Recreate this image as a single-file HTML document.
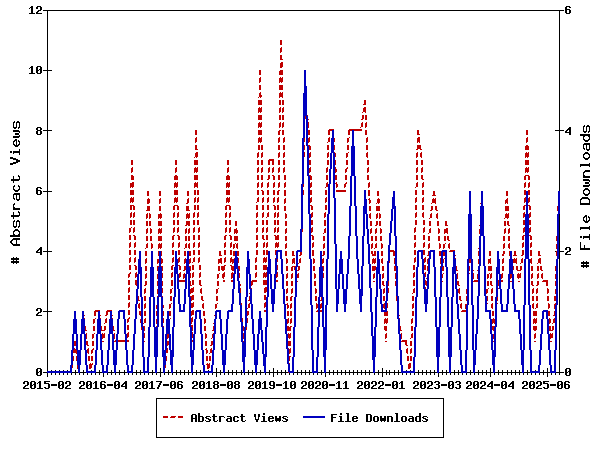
<!DOCTYPE html>
<html lang="en"><head><meta charset="utf-8">
<title>Abstract Views / File Downloads</title>
<style>
html,body{margin:0;padding:0;background:#ffffff;}
body{width:600px;height:450px;overflow:hidden;position:relative;font-family:"Liberation Mono",monospace;}
svg{position:absolute;left:0;top:0;display:block;}
</style></head><body>
<svg width="600" height="450" viewBox="0 0 600 450" shape-rendering="crispEdges" role="img" aria-label="Line chart of monthly abstract views (dashed red, left axis 0-12) and file downloads (solid blue, right axis 0-6), 2015-02 to 2025-09">
<rect x="0" y="0" width="600" height="450" fill="#ffffff"/>
<path fill="#000000" d="M31 6h2v1h-2zM37 6h4v1h-4zM566 6h4v1h-4zM30 7h3v1h-3zM569 7h2v1h-2zM29 8h1v1h-1zM36 7h2v2h-2zM565 7h2v2h-2zM40 7h2v3h-2zM565 9h5v1h-5zM38 10h3v1h-3zM43 10h521v1h-521zM37 11h2v1h-2zM31 8h2v5h-2zM36 12h2v1h-2zM565 10h2v3h-2zM569 10h2v3h-2zM29 13h6v1h-6zM36 13h6v1h-6zM566 13h4v1h-4zM31 66h2v1h-2zM37 66h4v1h-4zM30 67h3v1h-3zM29 68h1v1h-1zM40 67h2v2h-2zM36 67h2v3h-2zM39 69h3v1h-3zM47 11h1v59h-1zM36 70h3v1h-3zM43 70h9v1h-9zM31 68h2v5h-2zM36 71h2v2h-2zM40 70h2v3h-2zM29 73h6v1h-6zM37 73h4v1h-4zM14 121h1v1h-1zM17 121h2v1h-2zM13 122h2v1h-2zM16 122h4v1h-4zM584 125h1v1h-1zM587 125h2v1h-2zM13 123h1v4h-1zM16 123h1v4h-1zM19 123h1v4h-1zM583 126h2v1h-2zM586 126h4v1h-4zM13 127h4v1h-4zM18 127h2v1h-2zM37 127h4v1h-4zM569 127h2v1h-2zM14 128h2v1h-2zM18 128h1v1h-1zM568 128h3v1h-3zM36 128h2v2h-2zM40 128h2v2h-2zM47 71h1v59h-1zM559 11h1v119h-1zM567 129h4v1h-4zM13 130h6v1h-6zM37 130h4v1h-4zM43 130h9v1h-9zM555 130h9v1h-9zM566 130h2v1h-2zM583 127h1v4h-1zM586 127h1v4h-1zM589 127h1v4h-1zM13 131h7v1h-7zM565 131h2v1h-2zM569 130h2v2h-2zM583 131h4v1h-4zM588 131h2v1h-2zM19 132h1v1h-1zM565 132h6v1h-6zM584 132h2v1h-2zM588 132h1v1h-1zM36 131h2v3h-2zM40 131h2v3h-2zM15 133h4v2h-4zM37 134h4v1h-4zM569 133h2v2h-2zM19 135h1v1h-1zM580 134h10v2h-10zM13 136h7v1h-7zM583 136h2v1h-2zM588 136h2v1h-2zM13 137h6v1h-6zM583 137h1v2h-1zM589 137h1v2h-1zM15 139h2v1h-2zM583 139h2v1h-2zM588 139h2v1h-2zM14 140h3v1h-3zM18 140h1v1h-1zM584 140h5v1h-5zM13 141h2v1h-2zM18 141h2v1h-2zM585 141h3v1h-3zM13 142h1v2h-1zM19 142h1v2h-1zM584 143h6v1h-6zM13 144h2v1h-2zM16 141h1v4h-1zM18 144h2v1h-2zM583 144h7v1h-7zM14 145h5v1h-5zM15 146h3v1h-3zM583 145h1v3h-1zM583 148h2v1h-2zM586 145h1v4h-1zM589 145h1v4h-1zM584 149h1v1h-1zM586 149h4v1h-4zM19 149h1v2h-1zM587 150h2v1h-2zM10 151h2v2h-2zM13 151h7v2h-7zM585 152h3v1h-3zM13 153h1v1h-1zM584 153h5v1h-5zM19 153h1v2h-1zM583 154h2v1h-2zM588 154h2v1h-2zM583 155h1v2h-1zM589 155h1v2h-1zM10 157h3v1h-3zM583 157h2v1h-2zM588 157h2v1h-2zM10 158h6v1h-6zM584 158h5v1h-5zM13 159h5v1h-5zM585 159h3v1h-3zM16 160h4v2h-4zM13 162h5v1h-5zM10 163h6v1h-6zM589 163h1v1h-1zM10 164h3v1h-3zM580 164h10v2h-10zM580 166h1v1h-1zM589 166h1v1h-1zM585 170h5v1h-5zM584 171h6v1h-6zM583 172h2v1h-2zM583 173h1v2h-1zM18 175h1v1h-1zM583 175h2v1h-2zM18 176h2v1h-2zM583 176h7v2h-7zM13 176h1v3h-1zM19 177h1v2h-1zM11 179h9v1h-9zM583 179h6v1h-6zM11 180h8v1h-8zM583 180h7v1h-7zM589 181h1v1h-1zM13 181h1v2h-1zM585 182h4v2h-4zM589 184h1v1h-1zM14 185h1v1h-1zM18 185h1v1h-1zM583 185h7v1h-7zM13 186h2v1h-2zM18 186h2v1h-2zM583 186h6v1h-6zM37 187h4v1h-4zM13 187h1v2h-1zM19 187h1v2h-1zM40 188h2v1h-2zM585 188h3v1h-3zM13 189h2v1h-2zM18 189h2v1h-2zM36 188h2v2h-2zM584 189h5v1h-5zM14 190h5v1h-5zM36 190h5v1h-5zM47 131h1v60h-1zM559 131h1v60h-1zM583 190h2v1h-2zM588 190h2v1h-2zM15 191h3v1h-3zM43 191h9v1h-9zM583 191h1v2h-1zM589 191h1v2h-1zM14 193h6v1h-6zM36 191h2v3h-2zM40 191h2v3h-2zM583 193h2v1h-2zM588 193h2v1h-2zM13 194h7v1h-7zM37 194h4v1h-4zM584 194h5v1h-5zM585 195h3v1h-3zM13 195h1v3h-1zM582 197h6v1h-6zM13 198h2v1h-2zM16 195h1v4h-1zM19 195h1v4h-1zM581 198h8v1h-8zM14 199h1v1h-1zM16 199h4v1h-4zM580 199h2v1h-2zM588 199h2v1h-2zM17 200h2v1h-2zM580 200h1v3h-1zM589 200h1v3h-1zM14 203h1v1h-1zM13 204h2v1h-2zM580 203h10v2h-10zM13 205h1v2h-1zM13 207h2v1h-2zM13 208h7v2h-7zM18 211h1v1h-1zM18 212h2v1h-2zM13 212h1v3h-1zM19 213h1v2h-1zM11 215h9v1h-9zM585 215h2v1h-2zM11 216h8v1h-8zM584 216h3v1h-3zM588 216h1v1h-1zM583 217h2v1h-2zM588 217h2v1h-2zM13 217h1v2h-1zM583 218h1v2h-1zM589 218h1v2h-1zM14 220h1v1h-1zM17 220h2v1h-2zM583 220h2v1h-2zM586 217h1v4h-1zM588 220h2v1h-2zM13 221h2v1h-2zM16 221h4v1h-4zM584 221h5v1h-5zM585 222h3v1h-3zM13 222h1v4h-1zM16 222h1v4h-1zM19 222h1v4h-1zM13 226h4v1h-4zM18 226h2v1h-2zM589 226h1v1h-1zM14 227h2v1h-2zM18 227h1v1h-1zM580 227h10v2h-10zM15 229h3v1h-3zM580 229h1v1h-1zM589 229h1v1h-1zM14 230h5v1h-5zM13 231h2v1h-2zM18 231h2v1h-2zM13 232h1v2h-1zM19 232h1v2h-1zM13 234h2v1h-2zM18 234h2v1h-2zM589 234h1v2h-1zM10 235h10v2h-10zM580 236h2v2h-2zM583 236h7v2h-7zM13 238h7v1h-7zM583 238h1v1h-1zM12 239h8v1h-8zM589 238h1v2h-1zM11 240h2v1h-2zM10 241h2v2h-2zM11 243h2v1h-2zM16 240h1v4h-1zM12 244h8v1h-8zM13 245h7v1h-7zM40 247h2v1h-2zM566 247h4v1h-4zM580 242h1v6h-1zM584 245h1v3h-1zM39 248h3v1h-3zM38 249h4v1h-4zM565 248h2v2h-2zM580 248h10v2h-10zM37 250h2v1h-2zM47 192h1v59h-1zM559 214h1v37h-1zM569 248h2v3h-2zM36 251h2v1h-2zM40 250h2v2h-2zM43 251h9v1h-9zM555 251h1v1h-1zM559 251h5v1h-5zM567 251h3v1h-3zM36 252h6v1h-6zM566 252h2v1h-2zM565 253h2v1h-2zM40 253h2v2h-2zM565 254h6v1h-6zM13 257h1v1h-1zM16 257h1v1h-1zM11 258h8v2h-8zM13 260h1v1h-1zM16 260h1v1h-1zM583 261h1v1h-1zM586 261h1v1h-1zM11 261h8v2h-8zM13 263h1v1h-1zM16 263h1v1h-1zM581 262h8v2h-8zM583 264h1v1h-1zM586 264h1v1h-1zM581 265h8v2h-8zM583 267h1v1h-1zM586 267h1v1h-1zM37 308h4v1h-4zM36 309h2v2h-2zM47 252h1v59h-1zM40 309h2v3h-2zM43 311h9v1h-9zM38 312h3v1h-3zM37 313h2v1h-2zM36 314h2v1h-2zM36 315h6v1h-6zM37 368h4v1h-4zM566 368h4v1h-4zM40 369h2v2h-2zM47 312h1v59h-1zM51 370h1v1h-1zM55 370h1v1h-1zM59 370h1v1h-1zM63 370h1v1h-1zM67 370h1v1h-1zM91 370h1v1h-1zM208 370h1v1h-1zM406 370h1v1h-1zM410 370h1v1h-1zM535 370h1v1h-1zM569 369h2v2h-2zM36 369h2v3h-2zM39 371h3v1h-3zM75 370h1v2h-1zM83 370h1v2h-1zM99 370h1v2h-1zM111 370h1v2h-1zM119 370h1v2h-1zM124 370h1v2h-1zM136 370h1v2h-1zM140 370h1v2h-1zM152 370h1v2h-1zM160 368h1v4h-1zM168 370h1v2h-1zM176 370h1v2h-1zM180 370h1v2h-1zM184 370h1v2h-1zM188 370h1v2h-1zM196 370h1v2h-1zM200 370h1v2h-1zM216 368h1v4h-1zM220 370h1v2h-1zM228 370h1v2h-1zM232 370h1v2h-1zM236 370h1v2h-1zM241 370h1v2h-1zM248 370h1v2h-1zM252 370h1v2h-1zM260 370h1v2h-1zM269 370h1v2h-1zM273 368h1v4h-1zM277 370h1v2h-1zM281 370h1v2h-1zM285 370h1v2h-1zM297 370h1v2h-1zM301 370h1v2h-1zM305 370h1v2h-1zM309 370h1v2h-1zM321 370h1v2h-1zM329 370h1v2h-1zM333 370h1v2h-1zM337 370h1v2h-1zM341 370h1v2h-1zM345 370h1v2h-1zM349 370h1v2h-1zM353 370h1v2h-1zM357 370h1v2h-1zM361 370h1v2h-1zM365 370h1v2h-1zM369 370h1v2h-1zM378 370h1v2h-1zM382 368h1v4h-1zM386 370h1v2h-1zM389 370h1v2h-1zM394 370h1v2h-1zM398 370h1v2h-1zM418 370h1v2h-1zM422 370h1v2h-1zM426 370h1v2h-1zM430 370h1v2h-1zM434 370h1v2h-1zM442 370h1v2h-1zM446 370h1v2h-1zM454 370h1v2h-1zM458 370h1v2h-1zM470 370h1v2h-1zM478 370h1v2h-1zM482 370h1v2h-1zM486 370h1v2h-1zM490 368h1v4h-1zM498 370h1v2h-1zM502 370h1v2h-1zM507 370h1v2h-1zM511 370h1v2h-1zM515 370h1v2h-1zM519 370h1v2h-1zM527 370h1v2h-1zM543 370h1v2h-1zM547 368h1v4h-1zM559 252h1v120h-1zM565 369h2v3h-2zM568 371h3v1h-3zM36 372h3v1h-3zM43 372h4v1h-4zM72 372h6v1h-6zM80 372h6v1h-6zM96 372h6v1h-6zM108 372h6v1h-6zM116 372h11v1h-11zM133 372h10v1h-10zM149 372h6v1h-6zM157 372h6v1h-6zM165 372h6v1h-6zM173 372h18v1h-18zM193 372h10v1h-10zM213 372h10v1h-10zM225 372h18v1h-18zM245 372h10v1h-10zM257 372h7v1h-7zM266 372h22v1h-22zM294 372h18v1h-18zM318 372h6v1h-6zM326 372h47v1h-47zM375 372h26v1h-26zM415 372h22v1h-22zM439 372h10v1h-10zM451 372h10v1h-10zM467 372h6v1h-6zM475 372h18v1h-18zM495 372h27v1h-27zM524 372h6v1h-6zM540 372h10v1h-10zM556 372h8v1h-8zM565 372h3v1h-3zM36 373h2v2h-2zM40 372h2v3h-2zM51 373h1v2h-1zM55 373h1v2h-1zM59 373h1v2h-1zM63 373h1v2h-1zM67 373h1v2h-1zM71 373h1v2h-1zM75 373h1v2h-1zM79 373h1v2h-1zM83 373h1v2h-1zM87 373h1v2h-1zM91 373h1v2h-1zM95 373h1v2h-1zM99 373h1v2h-1zM107 373h1v2h-1zM111 373h1v2h-1zM115 373h1v2h-1zM119 373h1v2h-1zM124 373h1v2h-1zM128 373h1v2h-1zM132 373h1v2h-1zM136 373h1v2h-1zM140 373h1v2h-1zM144 373h1v2h-1zM148 373h1v2h-1zM152 373h1v2h-1zM156 373h1v2h-1zM164 373h1v2h-1zM168 373h1v2h-1zM172 373h1v2h-1zM176 373h1v2h-1zM180 373h1v2h-1zM184 373h1v2h-1zM188 373h1v2h-1zM192 373h1v2h-1zM196 373h1v2h-1zM200 373h1v2h-1zM204 373h1v2h-1zM208 373h1v2h-1zM212 373h1v2h-1zM220 373h1v2h-1zM224 373h1v2h-1zM228 373h1v2h-1zM232 373h1v2h-1zM236 373h1v2h-1zM241 373h1v2h-1zM244 373h1v2h-1zM248 373h1v2h-1zM252 373h1v2h-1zM256 373h1v2h-1zM260 373h1v2h-1zM265 373h1v2h-1zM269 373h1v2h-1zM277 373h1v2h-1zM281 373h1v2h-1zM285 373h1v2h-1zM289 373h1v2h-1zM293 373h1v2h-1zM297 373h1v2h-1zM301 373h1v2h-1zM305 373h1v2h-1zM309 373h1v2h-1zM313 373h1v2h-1zM317 373h1v2h-1zM321 373h1v2h-1zM329 373h1v2h-1zM333 373h1v2h-1zM337 373h1v2h-1zM341 373h1v2h-1zM345 373h1v2h-1zM349 373h1v2h-1zM353 373h1v2h-1zM357 373h1v2h-1zM361 373h1v2h-1zM365 373h1v2h-1zM369 373h1v2h-1zM374 373h1v2h-1zM378 373h1v2h-1zM386 373h1v2h-1zM389 373h1v2h-1zM394 373h1v2h-1zM398 373h1v2h-1zM402 373h1v2h-1zM406 373h1v2h-1zM410 373h1v2h-1zM414 373h1v2h-1zM418 373h1v2h-1zM422 373h1v2h-1zM426 373h1v2h-1zM430 373h1v2h-1zM434 373h1v2h-1zM442 373h1v2h-1zM446 373h1v2h-1zM450 373h1v2h-1zM454 373h1v2h-1zM458 373h1v2h-1zM462 373h1v2h-1zM466 373h1v2h-1zM470 373h1v2h-1zM474 373h1v2h-1zM478 373h1v2h-1zM482 373h1v2h-1zM486 373h1v2h-1zM494 373h1v2h-1zM498 373h1v2h-1zM502 373h1v2h-1zM507 373h1v2h-1zM511 373h1v2h-1zM515 373h1v2h-1zM519 373h1v2h-1zM523 373h1v2h-1zM527 373h1v2h-1zM531 373h1v2h-1zM535 373h1v2h-1zM539 373h1v2h-1zM543 373h1v2h-1zM551 373h1v2h-1zM555 373h1v2h-1zM559 373h1v2h-1zM565 373h2v2h-2zM569 372h2v3h-2zM37 375h4v1h-4zM566 375h4v1h-4zM47 373h1v4h-1zM103 373h1v4h-1zM160 373h1v4h-1zM216 373h1v4h-1zM273 373h1v4h-1zM325 373h1v4h-1zM382 373h1v4h-1zM438 373h1v4h-1zM490 373h1v4h-1zM547 373h1v4h-1zM24 381h4v1h-4zM31 381h4v1h-4zM39 381h2v1h-2zM44 381h6v1h-6zM59 381h4v1h-4zM66 381h4v1h-4zM80 381h4v1h-4zM87 381h4v1h-4zM95 381h2v1h-2zM101 381h4v1h-4zM115 381h4v1h-4zM125 381h2v1h-2zM136 381h4v1h-4zM143 381h4v1h-4zM151 381h2v1h-2zM156 381h6v1h-6zM171 381h4v1h-4zM178 381h4v1h-4zM193 381h4v1h-4zM200 381h4v1h-4zM208 381h2v1h-2zM214 381h4v1h-4zM228 381h4v1h-4zM235 381h4v1h-4zM249 381h4v1h-4zM256 381h4v1h-4zM264 381h2v1h-2zM270 381h4v1h-4zM285 381h2v1h-2zM291 381h4v1h-4zM302 381h4v1h-4zM309 381h4v1h-4zM316 381h4v1h-4zM323 381h4v1h-4zM338 381h2v1h-2zM345 381h2v1h-2zM358 381h4v1h-4zM365 381h4v1h-4zM372 381h4v1h-4zM379 381h4v1h-4zM393 381h4v1h-4zM401 381h2v1h-2zM414 381h4v1h-4zM421 381h4v1h-4zM428 381h4v1h-4zM435 381h4v1h-4zM449 381h4v1h-4zM456 381h4v1h-4zM467 381h4v1h-4zM474 381h4v1h-4zM481 381h4v1h-4zM491 381h2v1h-2zM502 381h4v1h-4zM512 381h2v1h-2zM523 381h4v1h-4zM530 381h4v1h-4zM537 381h4v1h-4zM543 381h6v1h-6zM558 381h4v1h-4zM565 381h4v1h-4zM38 382h3v1h-3zM44 382h2v1h-2zM94 382h3v1h-3zM104 382h2v1h-2zM124 382h3v1h-3zM150 382h3v1h-3zM160 382h2v1h-2zM181 382h2v1h-2zM207 382h3v1h-3zM263 382h3v1h-3zM284 382h3v1h-3zM337 382h3v1h-3zM344 382h3v1h-3zM400 382h3v1h-3zM434 382h2v1h-2zM455 382h2v1h-2zM490 382h3v1h-3zM511 382h3v1h-3zM543 382h2v1h-2zM568 382h2v1h-2zM23 382h2v2h-2zM34 382h2v2h-2zM37 383h1v1h-1zM44 383h5v1h-5zM62 382h2v2h-2zM65 382h2v2h-2zM79 382h2v2h-2zM90 382h2v2h-2zM93 383h1v1h-1zM100 382h2v2h-2zM118 382h2v2h-2zM123 383h4v1h-4zM135 382h2v2h-2zM146 382h2v2h-2zM149 383h1v1h-1zM174 382h2v2h-2zM177 382h2v2h-2zM192 382h2v2h-2zM203 382h2v2h-2zM206 383h1v1h-1zM213 382h2v2h-2zM217 382h2v2h-2zM231 382h2v2h-2zM234 382h2v2h-2zM238 382h2v2h-2zM248 382h2v2h-2zM259 382h2v2h-2zM262 383h1v1h-1zM283 383h1v1h-1zM294 382h2v2h-2zM301 382h2v2h-2zM312 382h2v2h-2zM315 382h2v2h-2zM326 382h2v2h-2zM336 383h1v1h-1zM343 383h1v1h-1zM357 382h2v2h-2zM368 382h2v2h-2zM371 382h2v2h-2zM378 382h2v2h-2zM396 382h2v2h-2zM399 383h1v1h-1zM413 382h2v2h-2zM424 382h2v2h-2zM427 382h2v2h-2zM438 382h2v2h-2zM452 382h2v2h-2zM459 382h2v2h-2zM466 382h2v2h-2zM477 382h2v2h-2zM480 382h2v2h-2zM489 383h4v1h-4zM505 382h2v2h-2zM510 383h4v1h-4zM522 382h2v2h-2zM533 382h2v2h-2zM536 382h2v2h-2zM543 383h5v1h-5zM561 382h2v2h-2zM564 382h2v2h-2zM27 382h2v3h-2zM30 382h2v3h-2zM33 384h3v1h-3zM58 382h2v3h-2zM61 384h3v1h-3zM69 382h2v3h-2zM83 382h2v3h-2zM86 382h2v3h-2zM89 384h3v1h-3zM100 384h5v1h-5zM114 382h2v3h-2zM117 384h3v1h-3zM122 384h2v1h-2zM139 382h2v3h-2zM142 382h2v3h-2zM145 384h3v1h-3zM159 383h2v2h-2zM170 382h2v3h-2zM173 384h3v1h-3zM177 384h5v1h-5zM196 382h2v3h-2zM199 382h2v3h-2zM202 384h3v1h-3zM214 384h4v1h-4zM227 382h2v3h-2zM230 384h3v1h-3zM235 384h4v1h-4zM252 382h2v3h-2zM255 382h2v3h-2zM258 384h3v1h-3zM269 382h2v3h-2zM273 382h2v3h-2zM290 382h2v3h-2zM293 384h3v1h-3zM305 382h2v3h-2zM308 382h2v3h-2zM311 384h3v1h-3zM319 382h2v3h-2zM322 382h2v3h-2zM325 384h3v1h-3zM361 382h2v3h-2zM364 382h2v3h-2zM367 384h3v1h-3zM375 382h2v3h-2zM382 382h2v3h-2zM392 382h2v3h-2zM395 384h3v1h-3zM417 382h2v3h-2zM420 382h2v3h-2zM423 384h3v1h-3zM431 382h2v3h-2zM436 384h3v1h-3zM448 382h2v3h-2zM451 384h3v1h-3zM457 384h3v1h-3zM470 382h2v3h-2zM473 382h2v3h-2zM476 384h3v1h-3zM484 382h2v3h-2zM488 384h2v1h-2zM501 382h2v3h-2zM504 384h3v1h-3zM509 384h2v1h-2zM526 382h2v3h-2zM529 382h2v3h-2zM532 384h3v1h-3zM540 382h2v3h-2zM557 382h2v3h-2zM560 384h3v1h-3zM564 384h5v1h-5zM25 385h3v1h-3zM30 385h3v1h-3zM51 384h6v2h-6zM58 385h3v1h-3zM67 385h3v1h-3zM81 385h3v1h-3zM86 385h3v1h-3zM107 384h6v2h-6zM114 385h3v1h-3zM121 385h2v1h-2zM125 384h2v2h-2zM137 385h3v1h-3zM142 385h3v1h-3zM163 384h6v2h-6zM170 385h3v1h-3zM194 385h3v1h-3zM199 385h3v1h-3zM220 384h6v2h-6zM227 385h3v1h-3zM250 385h3v1h-3zM255 385h3v1h-3zM270 385h5v1h-5zM276 384h6v2h-6zM290 385h3v1h-3zM303 385h3v1h-3zM308 385h3v1h-3zM317 385h3v1h-3zM322 385h3v1h-3zM329 384h6v2h-6zM359 385h3v1h-3zM364 385h3v1h-3zM373 385h3v1h-3zM380 385h3v1h-3zM385 384h6v2h-6zM392 385h3v1h-3zM415 385h3v1h-3zM420 385h3v1h-3zM429 385h3v1h-3zM441 384h6v2h-6zM448 385h3v1h-3zM468 385h3v1h-3zM473 385h3v1h-3zM482 385h3v1h-3zM487 385h2v1h-2zM491 384h2v2h-2zM494 384h6v2h-6zM501 385h3v1h-3zM508 385h2v1h-2zM512 384h2v2h-2zM524 385h3v1h-3zM529 385h3v1h-3zM538 385h3v1h-3zM550 384h6v2h-6zM557 385h3v1h-3zM24 386h2v1h-2zM66 386h2v1h-2zM80 386h2v1h-2zM121 386h6v1h-6zM136 386h2v1h-2zM158 385h2v2h-2zM193 386h2v1h-2zM249 386h2v1h-2zM302 386h2v1h-2zM316 386h2v1h-2zM358 386h2v1h-2zM372 386h2v1h-2zM379 386h2v1h-2zM414 386h2v1h-2zM428 386h2v1h-2zM467 386h2v1h-2zM481 386h2v1h-2zM487 386h6v1h-6zM508 386h6v1h-6zM523 386h2v1h-2zM537 386h2v1h-2zM23 387h2v1h-2zM30 386h2v2h-2zM34 385h2v3h-2zM39 383h2v5h-2zM44 387h2v1h-2zM48 384h2v4h-2zM58 386h2v2h-2zM62 385h2v3h-2zM65 387h2v1h-2zM79 387h2v1h-2zM86 386h2v2h-2zM90 385h2v3h-2zM95 383h2v5h-2zM100 385h2v3h-2zM104 385h2v3h-2zM114 386h2v2h-2zM118 385h2v3h-2zM135 387h2v1h-2zM142 386h2v2h-2zM146 385h2v3h-2zM151 383h2v5h-2zM170 386h2v2h-2zM174 385h2v3h-2zM177 385h2v3h-2zM181 385h2v3h-2zM192 387h2v1h-2zM199 386h2v2h-2zM203 385h2v3h-2zM208 383h2v5h-2zM213 385h2v3h-2zM217 385h2v3h-2zM227 386h2v2h-2zM231 385h2v3h-2zM234 385h2v3h-2zM238 385h2v3h-2zM248 387h2v1h-2zM255 386h2v2h-2zM259 385h2v3h-2zM264 383h2v5h-2zM269 387h2v1h-2zM273 386h2v2h-2zM285 383h2v5h-2zM290 386h2v2h-2zM294 385h2v3h-2zM301 387h2v1h-2zM308 386h2v2h-2zM312 385h2v3h-2zM315 387h2v1h-2zM322 386h2v2h-2zM326 385h2v3h-2zM338 383h2v5h-2zM345 383h2v5h-2zM357 387h2v1h-2zM364 386h2v2h-2zM368 385h2v3h-2zM371 387h2v1h-2zM378 387h2v1h-2zM392 386h2v2h-2zM396 385h2v3h-2zM401 383h2v5h-2zM413 387h2v1h-2zM420 386h2v2h-2zM424 385h2v3h-2zM427 387h2v1h-2zM434 387h2v1h-2zM438 385h2v3h-2zM448 386h2v2h-2zM452 385h2v3h-2zM455 387h2v1h-2zM459 385h2v3h-2zM466 387h2v1h-2zM473 386h2v2h-2zM477 385h2v3h-2zM480 387h2v1h-2zM501 386h2v2h-2zM505 385h2v3h-2zM522 387h2v1h-2zM529 386h2v2h-2zM533 385h2v3h-2zM536 387h2v1h-2zM543 387h2v1h-2zM547 384h2v4h-2zM557 386h2v2h-2zM561 385h2v3h-2zM564 385h2v3h-2zM568 385h2v3h-2zM23 388h6v1h-6zM31 388h4v1h-4zM37 388h6v1h-6zM45 388h4v1h-4zM59 388h4v1h-4zM65 388h6v1h-6zM79 388h6v1h-6zM87 388h4v1h-4zM93 388h6v1h-6zM101 388h4v1h-4zM115 388h4v1h-4zM125 387h2v2h-2zM135 388h6v1h-6zM143 388h4v1h-4zM149 388h6v1h-6zM157 387h2v2h-2zM171 388h4v1h-4zM178 388h4v1h-4zM192 388h6v1h-6zM200 388h4v1h-4zM206 388h6v1h-6zM214 388h4v1h-4zM228 388h4v1h-4zM235 388h4v1h-4zM248 388h6v1h-6zM256 388h4v1h-4zM262 388h6v1h-6zM270 388h4v1h-4zM283 388h6v1h-6zM291 388h4v1h-4zM301 388h6v1h-6zM309 388h4v1h-4zM315 388h6v1h-6zM323 388h4v1h-4zM336 388h6v1h-6zM343 388h6v1h-6zM357 388h6v1h-6zM365 388h4v1h-4zM371 388h6v1h-6zM378 388h6v1h-6zM393 388h4v1h-4zM399 388h6v1h-6zM413 388h6v1h-6zM421 388h4v1h-4zM427 388h6v1h-6zM435 388h4v1h-4zM449 388h4v1h-4zM456 388h4v1h-4zM466 388h6v1h-6zM474 388h4v1h-4zM480 388h6v1h-6zM491 387h2v2h-2zM502 388h4v1h-4zM512 387h2v2h-2zM522 388h6v1h-6zM530 388h4v1h-4zM536 388h6v1h-6zM544 388h4v1h-4zM558 388h4v1h-4zM565 388h4v1h-4zM156 398h288v1h-288zM346 413h3v1h-3zM395 413h3v1h-3zM192 414h4v1h-4zM263 413h2v2h-2zM331 414h6v1h-6zM340 413h2v2h-2zM366 414h5v1h-5zM198 413h2v3h-2zM213 414h2v2h-2zM241 414h2v2h-2zM419 413h2v3h-2zM198 416h5v1h-5zM206 416h4v1h-4zM212 416h5v1h-5zM219 416h5v1h-5zM227 416h4v1h-4zM234 416h4v1h-4zM240 416h5v1h-5zM254 414h2v3h-2zM258 414h2v3h-2zM262 416h3v1h-3zM269 416h4v1h-4zM283 416h4v1h-4zM331 415h2v2h-2zM339 416h3v1h-3zM353 416h4v1h-4zM374 416h4v1h-4zM387 416h5v1h-5zM402 416h4v1h-4zM409 416h4v1h-4zM416 416h5v1h-5zM423 416h4v1h-4zM191 415h2v3h-2zM195 415h2v3h-2zM205 417h2v1h-2zM210 417h1v1h-1zM224 417h1v1h-1zM230 417h2v1h-2zM237 417h2v1h-2zM268 417h2v1h-2zM272 417h2v1h-2zM275 416h2v2h-2zM279 416h2v2h-2zM282 417h2v1h-2zM287 417h1v1h-1zM331 417h5v1h-5zM352 417h2v1h-2zM356 417h2v1h-2zM380 416h2v2h-2zM384 416h2v2h-2zM412 417h2v1h-2zM422 417h2v1h-2zM427 417h1v1h-1zM191 418h6v1h-6zM206 418h3v1h-3zM227 418h5v1h-5zM255 417h1v2h-1zM258 417h1v2h-1zM268 418h6v1h-6zM283 418h3v1h-3zM352 418h6v1h-6zM409 418h5v1h-5zM423 418h3v1h-3zM208 419h3v1h-3zM255 419h4v1h-4zM285 419h3v1h-3zM425 419h3v1h-3zM198 417h2v4h-2zM202 417h2v4h-2zM205 420h1v1h-1zM209 420h2v1h-2zM213 417h2v4h-2zM217 420h1v1h-1zM226 419h2v2h-2zM230 419h2v2h-2zM233 417h2v4h-2zM237 420h2v1h-2zM241 417h2v4h-2zM245 420h1v1h-1zM263 417h2v4h-2zM268 419h2v2h-2zM272 420h2v1h-2zM275 418h6v3h-6zM282 420h1v1h-1zM286 420h2v1h-2zM340 417h2v4h-2zM347 414h2v7h-2zM352 419h2v2h-2zM356 420h2v1h-2zM366 415h2v6h-2zM370 415h2v6h-2zM373 417h2v4h-2zM377 417h2v4h-2zM380 418h6v3h-6zM396 414h2v7h-2zM401 417h2v4h-2zM405 417h2v4h-2zM408 419h2v2h-2zM412 419h2v2h-2zM415 417h2v4h-2zM419 417h2v4h-2zM422 420h1v1h-1zM426 420h2v1h-2zM191 419h2v3h-2zM195 419h2v3h-2zM198 421h5v1h-5zM206 421h4v1h-4zM214 421h3v1h-3zM219 417h2v5h-2zM227 421h5v1h-5zM234 421h4v1h-4zM242 421h3v1h-3zM256 420h2v2h-2zM261 421h6v1h-6zM269 421h4v1h-4zM276 421h1v1h-1zM279 421h1v1h-1zM283 421h4v1h-4zM331 418h2v4h-2zM338 421h6v1h-6zM345 421h6v1h-6zM353 421h4v1h-4zM366 421h5v1h-5zM374 421h4v1h-4zM381 421h1v1h-1zM384 421h1v1h-1zM387 417h2v5h-2zM391 417h2v5h-2zM394 421h6v1h-6zM402 421h4v1h-4zM409 421h5v1h-5zM416 421h5v1h-5zM423 421h4v1h-4zM156 399h1v38h-1zM443 399h1v38h-1zM156 437h288v1h-288z"/>
<path fill="#bf0000" d="M280 40h2v5h-2zM281 47h1v1h-1zM280 48h2v4h-2zM280 52h1v1h-1zM280 55h2v4h-2zM280 59h3v1h-3zM281 62h2v1h-2zM280 63h3v4h-3zM280 67h2v1h-2zM280 70h3v1h-3zM259 70h2v5h-2zM279 71h4v4h-4zM260 77h1v1h-1zM280 77h1v1h-1zM282 77h1v1h-1zM259 78h2v4h-2zM279 78h4v4h-4zM259 82h1v1h-1zM279 82h1v1h-1zM281 82h1v1h-1zM259 85h2v5h-2zM279 85h4v5h-4zM260 92h1v1h-1zM280 92h1v1h-1zM282 92h1v1h-1zM259 93h2v2h-2zM259 95h3v2h-3zM279 93h4v4h-4zM258 97h1v1h-1zM260 97h1v1h-1zM279 97h1v1h-1zM282 97h1v1h-1zM364 100h2v4h-2zM258 100h4v5h-4zM279 100h2v5h-2zM282 100h2v5h-2zM363 104h3v1h-3zM259 107h1v1h-1zM261 107h1v1h-1zM280 107h1v1h-1zM283 107h1v1h-1zM364 107h2v1h-2zM258 108h4v4h-4zM279 108h2v4h-2zM282 108h2v4h-2zM363 108h3v4h-3zM258 112h1v1h-1zM260 112h1v1h-1zM279 112h1v1h-1zM282 112h1v1h-1zM362 112h1v1h-1zM365 112h1v1h-1zM307 115h1v1h-1zM305 116h1v3h-1zM362 115h2v4h-2zM258 115h4v5h-4zM279 115h2v5h-2zM282 115h2v5h-2zM308 119h1v1h-1zM361 119h2v1h-2zM365 115h2v5h-2zM259 122h1v1h-1zM261 122h1v1h-1zM280 122h1v1h-1zM283 122h1v1h-1zM362 122h1v1h-1zM366 122h1v1h-1zM258 123h4v4h-4zM279 123h2v4h-2zM282 123h2v4h-2zM361 123h2v4h-2zM365 123h2v4h-2zM258 127h1v1h-1zM260 127h1v1h-1zM279 127h1v1h-1zM282 127h1v1h-1zM308 122h1v6h-1zM360 127h1v1h-1zM365 127h1v1h-1zM329 129h5v1h-5zM349 129h13v1h-13zM279 130h2v1h-2zM328 130h4v1h-4zM348 130h4v1h-4zM354 130h8v1h-8zM417 130h2v4h-2zM195 130h2v5h-2zM258 130h4v5h-4zM278 131h2v4h-2zM282 130h2v5h-2zM308 130h2v5h-2zM328 131h2v4h-2zM348 131h2v4h-2zM365 130h2v5h-2zM417 134h3v1h-3zM526 130h2v5h-2zM196 137h1v1h-1zM259 137h1v1h-1zM261 137h1v1h-1zM279 137h1v1h-1zM284 137h1v1h-1zM309 137h1v1h-1zM329 137h1v1h-1zM349 137h1v1h-1zM367 137h1v1h-1zM418 137h2v1h-2zM527 137h1v1h-1zM195 138h2v4h-2zM258 138h4v4h-4zM278 138h2v4h-2zM283 138h2v4h-2zM304 138h1v4h-1zM308 138h2v4h-2zM328 138h2v4h-2zM334 138h1v4h-1zM347 138h2v4h-2zM366 138h2v4h-2zM417 138h3v4h-3zM526 138h2v4h-2zM195 142h1v1h-1zM258 142h1v1h-1zM260 142h1v1h-1zM278 142h1v1h-1zM283 142h1v1h-1zM308 142h1v1h-1zM327 142h1v1h-1zM347 142h1v1h-1zM366 142h1v1h-1zM417 142h1v1h-1zM419 142h1v1h-1zM526 142h1v1h-1zM308 145h2v1h-2zM526 145h2v1h-2zM195 145h2v4h-2zM417 145h4v4h-4zM195 149h3v1h-3zM258 145h2v5h-2zM261 145h2v5h-2zM278 145h2v5h-2zM283 145h2v5h-2zM304 145h1v5h-1zM309 146h2v4h-2zM327 145h2v5h-2zM334 145h1v5h-1zM347 145h2v5h-2zM366 145h2v5h-2zM416 149h2v1h-2zM420 149h2v1h-2zM525 146h4v4h-4zM196 152h2v1h-2zM258 152h1v1h-1zM262 152h1v1h-1zM279 152h1v1h-1zM284 152h1v1h-1zM310 152h1v1h-1zM328 152h1v1h-1zM334 152h1v1h-1zM348 152h1v1h-1zM367 152h1v1h-1zM417 152h1v1h-1zM421 152h1v1h-1zM526 152h1v1h-1zM528 152h1v1h-1zM195 153h3v4h-3zM257 153h2v4h-2zM261 153h2v4h-2zM278 153h2v4h-2zM283 153h2v4h-2zM304 152h1v5h-1zM309 153h2v4h-2zM327 153h2v4h-2zM335 153h1v4h-1zM346 153h2v4h-2zM366 153h2v4h-2zM416 153h2v4h-2zM420 153h2v4h-2zM525 153h4v4h-4zM194 157h1v1h-1zM196 157h1v1h-1zM257 157h1v1h-1zM261 157h1v1h-1zM278 157h1v1h-1zM283 157h1v1h-1zM309 157h1v1h-1zM327 157h1v1h-1zM346 157h1v1h-1zM367 157h1v1h-1zM416 157h1v1h-1zM421 157h1v1h-1zM525 157h1v1h-1zM527 157h1v1h-1zM269 159h5v1h-5zM268 160h6v1h-6zM131 160h2v5h-2zM175 160h2v5h-2zM194 160h4v5h-4zM227 160h2v5h-2zM257 160h2v5h-2zM261 160h2v5h-2zM268 161h2v4h-2zM272 161h2v4h-2zM278 160h2v5h-2zM283 160h2v5h-2zM309 160h2v5h-2zM327 160h2v5h-2zM335 160h1v5h-1zM346 160h2v5h-2zM367 160h2v5h-2zM416 160h2v5h-2zM421 160h2v5h-2zM525 160h4v5h-4zM132 167h1v1h-1zM176 167h1v1h-1zM195 167h1v1h-1zM197 167h1v1h-1zM228 167h1v1h-1zM258 167h1v1h-1zM262 167h1v1h-1zM269 167h1v1h-1zM273 167h1v1h-1zM279 167h1v1h-1zM284 167h1v1h-1zM310 167h1v1h-1zM327 167h1v1h-1zM347 167h1v1h-1zM368 167h1v1h-1zM417 167h1v1h-1zM422 167h1v1h-1zM526 167h1v1h-1zM528 167h1v1h-1zM335 167h1v2h-1zM346 168h2v1h-2zM131 168h2v4h-2zM175 168h2v4h-2zM194 168h4v4h-4zM227 168h2v4h-2zM257 168h2v4h-2zM261 168h2v4h-2zM268 168h2v4h-2zM272 168h2v4h-2zM278 168h2v4h-2zM283 168h2v4h-2zM309 168h2v4h-2zM326 168h2v4h-2zM335 169h2v3h-2zM345 169h2v3h-2zM367 168h2v4h-2zM416 168h2v4h-2zM421 168h2v4h-2zM525 168h4v4h-4zM131 172h1v1h-1zM175 172h1v1h-1zM194 172h1v1h-1zM196 172h1v1h-1zM227 172h1v1h-1zM257 172h1v1h-1zM261 172h1v1h-1zM268 172h1v1h-1zM272 172h1v1h-1zM278 172h1v1h-1zM283 172h1v1h-1zM309 172h1v1h-1zM326 172h1v1h-1zM335 172h1v1h-1zM345 172h1v1h-1zM367 172h1v1h-1zM416 172h1v1h-1zM421 172h1v1h-1zM525 172h1v1h-1zM527 172h1v1h-1zM131 175h2v1h-2zM175 175h2v1h-2zM227 175h2v1h-2zM272 175h2v1h-2zM309 175h2v1h-2zM525 175h4v1h-4zM268 175h2v4h-2zM421 175h2v4h-2zM131 176h3v4h-3zM174 176h4v4h-4zM194 175h4v5h-4zM226 176h4v4h-4zM257 175h2v5h-2zM261 175h2v5h-2zM267 179h2v1h-2zM273 176h2v4h-2zM278 175h2v5h-2zM284 175h2v5h-2zM310 176h2v4h-2zM326 175h2v5h-2zM335 175h2v5h-2zM345 175h2v5h-2zM367 175h2v5h-2zM416 175h2v5h-2zM422 179h2v1h-2zM524 176h2v4h-2zM528 176h2v4h-2zM132 182h2v1h-2zM175 182h1v1h-1zM177 182h1v1h-1zM195 182h1v1h-1zM197 182h1v1h-1zM227 182h1v1h-1zM229 182h1v1h-1zM258 182h1v1h-1zM262 182h1v1h-1zM268 182h1v1h-1zM274 182h1v1h-1zM279 182h1v1h-1zM285 182h1v1h-1zM311 182h1v1h-1zM327 182h1v1h-1zM336 182h1v1h-1zM346 182h1v1h-1zM369 182h1v1h-1zM417 182h1v1h-1zM423 182h1v1h-1zM525 182h1v1h-1zM529 182h1v1h-1zM335 183h2v1h-2zM345 183h2v1h-2zM130 183h4v4h-4zM174 183h4v4h-4zM194 183h4v4h-4zM226 183h4v4h-4zM257 183h2v4h-2zM261 183h2v4h-2zM267 183h2v4h-2zM273 183h2v4h-2zM278 183h2v4h-2zM284 183h2v4h-2zM303 184h1v3h-1zM310 183h2v4h-2zM326 183h2v4h-2zM336 184h2v3h-2zM344 184h2v3h-2zM368 183h2v4h-2zM416 183h2v4h-2zM422 183h2v4h-2zM524 183h2v4h-2zM528 183h2v4h-2zM130 187h1v1h-1zM132 187h1v1h-1zM174 187h1v1h-1zM176 187h1v1h-1zM194 187h1v1h-1zM197 187h1v1h-1zM226 187h1v1h-1zM228 187h1v1h-1zM257 187h1v1h-1zM261 187h1v1h-1zM267 187h1v1h-1zM273 187h1v1h-1zM278 187h1v1h-1zM284 187h1v1h-1zM310 187h1v1h-1zM325 187h1v1h-1zM336 187h1v1h-1zM344 187h1v1h-1zM368 187h1v1h-1zM415 187h1v1h-1zM422 187h1v1h-1zM524 187h1v1h-1zM528 187h1v1h-1zM261 190h2v1h-2zM278 190h2v1h-2zM336 190h10v2h-10zM130 190h4v5h-4zM174 190h4v5h-4zM194 190h2v5h-2zM197 190h2v5h-2zM226 190h4v5h-4zM257 190h2v5h-2zM262 191h2v4h-2zM267 190h2v5h-2zM273 190h2v5h-2zM277 191h2v4h-2zM303 190h1v5h-1zM310 190h2v5h-2zM325 190h2v5h-2zM415 190h2v5h-2zM422 190h2v5h-2zM433 191h2v4h-2zM524 190h2v5h-2zM528 190h2v5h-2zM147 191h2v5h-2zM159 191h2v5h-2zM187 191h2v5h-2zM284 190h2v6h-2zM368 190h2v6h-2zM377 191h2v5h-2zM432 195h4v1h-4zM506 191h2v5h-2zM131 197h1v1h-1zM133 197h1v1h-1zM175 197h1v1h-1zM177 197h1v1h-1zM195 197h1v1h-1zM198 197h1v1h-1zM227 197h1v1h-1zM229 197h1v1h-1zM258 197h1v1h-1zM263 197h1v1h-1zM268 197h1v1h-1zM274 197h1v1h-1zM278 197h1v1h-1zM311 197h1v1h-1zM326 197h1v1h-1zM416 197h1v1h-1zM423 197h1v1h-1zM525 197h1v1h-1zM529 197h1v1h-1zM148 198h1v1h-1zM160 198h1v1h-1zM188 198h1v1h-1zM285 198h1v1h-1zM369 198h1v1h-1zM378 198h1v1h-1zM433 198h1v1h-1zM435 198h1v1h-1zM507 198h1v1h-1zM368 199h2v1h-2zM506 199h2v1h-2zM130 198h4v4h-4zM174 198h4v4h-4zM194 198h2v4h-2zM197 198h2v4h-2zM226 198h4v4h-4zM257 198h2v4h-2zM262 198h2v4h-2zM267 198h2v4h-2zM273 198h2v4h-2zM277 198h2v4h-2zM310 198h2v4h-2zM325 198h2v4h-2zM415 198h2v4h-2zM422 198h2v4h-2zM524 198h2v4h-2zM528 198h2v4h-2zM130 202h1v1h-1zM132 202h1v1h-1zM147 199h3v4h-3zM159 199h2v4h-2zM174 202h1v1h-1zM176 202h1v1h-1zM187 199h2v4h-2zM194 202h1v1h-1zM197 202h1v1h-1zM226 202h1v1h-1zM228 202h1v1h-1zM256 202h1v1h-1zM262 202h1v1h-1zM267 202h1v1h-1zM273 202h1v1h-1zM277 202h1v1h-1zM284 199h2v4h-2zM310 202h1v1h-1zM325 202h1v1h-1zM369 200h2v3h-2zM377 199h3v4h-3zM415 202h1v1h-1zM422 202h1v1h-1zM432 199h4v4h-4zM505 200h3v3h-3zM524 202h1v1h-1zM528 202h1v1h-1zM147 203h2v1h-2zM159 203h1v1h-1zM186 203h2v1h-2zM284 203h1v1h-1zM369 203h1v1h-1zM376 203h1v1h-1zM378 203h1v1h-1zM431 203h1v1h-1zM435 203h1v1h-1zM480 203h1v1h-1zM505 203h1v1h-1zM507 203h1v1h-1zM130 205h4v1h-4zM174 205h4v1h-4zM226 205h4v1h-4zM273 205h2v1h-2zM310 205h2v1h-2zM524 205h2v1h-2zM528 205h2v1h-2zM130 206h2v4h-2zM133 206h2v4h-2zM147 206h3v4h-3zM173 206h2v4h-2zM177 206h2v4h-2zM186 206h3v4h-3zM194 205h2v5h-2zM197 205h2v5h-2zM225 206h2v4h-2zM229 206h2v4h-2zM256 205h2v5h-2zM262 205h2v5h-2zM267 205h2v5h-2zM274 206h2v4h-2zM277 205h2v5h-2zM311 206h2v4h-2zM325 205h2v5h-2zM415 205h2v5h-2zM422 205h2v5h-2zM431 206h2v4h-2zM435 206h2v4h-2zM523 206h2v4h-2zM529 206h2v4h-2zM146 210h4v1h-4zM159 206h2v5h-2zM186 210h4v1h-4zM284 206h2v5h-2zM369 206h2v5h-2zM376 206h4v5h-4zM430 210h2v1h-2zM436 210h2v1h-2zM505 206h4v5h-4zM557 206h1v5h-1zM131 212h1v1h-1zM134 212h1v1h-1zM174 212h1v1h-1zM178 212h1v1h-1zM194 212h1v1h-1zM198 212h1v1h-1zM226 212h1v1h-1zM230 212h1v1h-1zM257 212h1v1h-1zM263 212h1v1h-1zM268 212h1v1h-1zM275 212h1v1h-1zM278 212h1v1h-1zM312 212h1v1h-1zM325 212h1v1h-1zM416 212h1v1h-1zM423 212h1v1h-1zM524 212h1v1h-1zM530 212h1v1h-1zM147 213h1v1h-1zM149 213h1v1h-1zM160 213h1v1h-1zM187 213h1v1h-1zM189 213h1v1h-1zM285 213h1v1h-1zM370 213h1v1h-1zM377 213h1v1h-1zM379 213h1v1h-1zM431 213h1v1h-1zM437 213h1v1h-1zM506 213h1v1h-1zM508 213h1v1h-1zM130 213h2v4h-2zM133 213h2v4h-2zM173 213h2v4h-2zM177 213h2v4h-2zM193 213h2v4h-2zM197 213h2v4h-2zM225 213h2v4h-2zM229 213h2v4h-2zM256 213h2v4h-2zM262 213h2v4h-2zM267 213h2v4h-2zM274 213h2v4h-2zM277 213h2v4h-2zM311 213h2v4h-2zM324 213h2v4h-2zM415 213h2v4h-2zM422 213h2v4h-2zM523 213h2v4h-2zM529 213h2v4h-2zM130 217h1v1h-1zM133 217h1v1h-1zM146 214h2v4h-2zM149 214h2v4h-2zM158 214h4v4h-4zM173 217h1v1h-1zM177 217h1v1h-1zM186 214h4v4h-4zM193 217h1v1h-1zM197 217h1v1h-1zM225 217h1v1h-1zM229 217h1v1h-1zM256 217h1v1h-1zM262 217h1v1h-1zM266 217h1v1h-1zM274 217h1v1h-1zM277 217h1v1h-1zM285 214h2v4h-2zM311 217h1v1h-1zM324 217h1v1h-1zM369 214h2v4h-2zM376 214h2v4h-2zM379 214h2v4h-2zM415 217h1v1h-1zM423 217h1v1h-1zM430 214h2v4h-2zM436 214h2v4h-2zM505 214h4v4h-4zM523 217h1v1h-1zM529 217h1v1h-1zM146 218h1v1h-1zM149 218h1v1h-1zM158 218h1v1h-1zM160 218h1v1h-1zM186 218h1v1h-1zM188 218h1v1h-1zM285 218h1v1h-1zM370 218h1v1h-1zM376 218h1v1h-1zM379 218h1v1h-1zM429 218h1v1h-1zM437 218h1v1h-1zM504 218h1v1h-1zM507 218h1v1h-1zM130 220h2v5h-2zM133 220h2v5h-2zM173 220h2v5h-2zM177 220h2v5h-2zM186 221h4v4h-4zM193 220h2v5h-2zM197 220h2v5h-2zM225 220h2v5h-2zM229 220h2v5h-2zM256 220h2v5h-2zM262 220h2v5h-2zM266 220h2v5h-2zM274 220h2v5h-2zM277 220h2v5h-2zM311 220h2v5h-2zM376 221h2v4h-2zM415 220h2v5h-2zM423 220h2v5h-2zM445 221h2v4h-2zM507 221h2v4h-2zM523 220h2v5h-2zM529 220h2v5h-2zM146 221h2v5h-2zM149 221h2v5h-2zM158 221h4v5h-4zM185 225h2v1h-2zM188 225h2v1h-2zM235 221h2v5h-2zM285 221h2v5h-2zM324 220h2v6h-2zM370 221h2v5h-2zM375 225h2v1h-2zM379 221h2v5h-2zM429 221h2v5h-2zM437 221h2v5h-2zM445 225h3v1h-3zM479 225h1v1h-1zM504 221h2v5h-2zM508 225h2v1h-2zM131 227h1v1h-1zM134 227h1v1h-1zM174 227h1v1h-1zM178 227h1v1h-1zM194 227h1v1h-1zM199 227h1v1h-1zM226 227h1v1h-1zM230 227h1v1h-1zM257 227h1v1h-1zM263 227h1v1h-1zM267 227h1v1h-1zM275 227h1v1h-1zM278 227h1v1h-1zM312 227h1v1h-1zM415 227h1v1h-1zM424 227h1v1h-1zM524 227h1v1h-1zM530 227h1v1h-1zM147 228h1v1h-1zM150 228h1v1h-1zM159 228h1v1h-1zM161 228h1v1h-1zM186 228h1v1h-1zM189 228h1v1h-1zM236 228h1v1h-1zM286 228h1v1h-1zM325 228h1v1h-1zM371 228h1v1h-1zM376 228h1v1h-1zM380 228h1v1h-1zM430 228h1v1h-1zM438 228h1v1h-1zM446 228h2v1h-2zM505 228h1v1h-1zM509 228h1v1h-1zM234 229h3v1h-3zM129 228h2v4h-2zM133 228h2v4h-2zM173 228h2v4h-2zM177 228h2v4h-2zM193 228h2v4h-2zM198 228h2v4h-2zM225 228h2v4h-2zM229 228h2v4h-2zM256 228h2v4h-2zM262 228h2v4h-2zM266 228h2v4h-2zM274 228h2v4h-2zM277 228h2v4h-2zM302 229h1v3h-1zM311 228h2v4h-2zM414 228h2v4h-2zM423 228h2v4h-2zM523 228h2v4h-2zM529 228h2v4h-2zM129 232h1v1h-1zM133 232h1v1h-1zM146 229h2v4h-2zM150 229h2v4h-2zM158 229h4v4h-4zM173 232h1v1h-1zM177 232h1v1h-1zM185 229h2v4h-2zM188 229h2v4h-2zM193 232h1v1h-1zM198 232h1v1h-1zM225 232h1v1h-1zM229 232h1v1h-1zM234 230h4v3h-4zM256 232h1v1h-1zM262 232h1v1h-1zM266 232h1v1h-1zM274 232h1v1h-1zM277 232h1v1h-1zM285 229h2v4h-2zM311 232h1v1h-1zM324 229h2v4h-2zM370 229h2v4h-2zM375 229h2v4h-2zM380 229h2v4h-2zM414 232h1v1h-1zM423 232h1v1h-1zM429 229h2v4h-2zM438 229h2v4h-2zM444 229h4v4h-4zM504 229h2v4h-2zM508 229h2v4h-2zM523 232h1v1h-1zM529 232h1v1h-1zM146 233h1v1h-1zM150 233h1v1h-1zM158 233h1v1h-1zM160 233h1v1h-1zM185 233h1v1h-1zM188 233h1v1h-1zM234 233h1v1h-1zM236 233h1v1h-1zM285 233h1v1h-1zM323 233h1v1h-1zM370 233h1v1h-1zM375 233h1v1h-1zM380 233h1v1h-1zM428 233h1v1h-1zM438 233h1v1h-1zM444 233h1v1h-1zM447 233h1v1h-1zM479 229h1v5h-1zM504 233h1v1h-1zM508 233h1v1h-1zM133 235h2v1h-2zM173 235h2v1h-2zM177 235h2v1h-2zM225 235h2v1h-2zM229 235h2v1h-2zM274 235h2v1h-2zM277 235h2v1h-2zM311 235h2v1h-2zM523 235h2v1h-2zM529 235h2v1h-2zM262 235h2v4h-2zM129 235h2v5h-2zM134 236h2v4h-2zM172 236h2v4h-2zM178 236h2v4h-2zM193 235h2v5h-2zM198 235h2v5h-2zM224 236h2v4h-2zM230 236h2v4h-2zM256 235h2v5h-2zM263 239h2v1h-2zM266 235h2v5h-2zM275 236h4v4h-4zM312 236h2v4h-2zM414 235h2v5h-2zM423 235h2v5h-2zM447 236h2v4h-2zM522 236h2v4h-2zM530 236h2v4h-2zM146 236h2v5h-2zM150 236h2v5h-2zM158 236h4v5h-4zM185 236h2v5h-2zM188 236h2v5h-2zM234 236h4v5h-4zM285 236h2v5h-2zM323 236h2v5h-2zM371 236h2v5h-2zM375 236h2v5h-2zM380 236h2v5h-2zM428 236h2v5h-2zM438 236h2v5h-2zM444 236h2v5h-2zM448 240h2v1h-2zM503 236h2v5h-2zM508 236h2v5h-2zM556 236h1v5h-1zM130 242h1v1h-1zM135 242h1v1h-1zM173 242h1v1h-1zM179 242h1v1h-1zM194 242h1v1h-1zM199 242h1v1h-1zM225 242h1v1h-1zM231 242h1v1h-1zM257 242h1v1h-1zM264 242h1v1h-1zM267 242h1v1h-1zM276 242h1v1h-1zM278 242h1v1h-1zM313 242h1v1h-1zM415 242h1v1h-1zM424 242h1v1h-1zM523 242h1v1h-1zM531 242h1v1h-1zM147 243h1v1h-1zM151 243h1v1h-1zM159 243h1v1h-1zM161 243h1v1h-1zM186 243h1v1h-1zM189 243h1v1h-1zM235 243h1v1h-1zM237 243h1v1h-1zM286 243h1v1h-1zM324 243h1v1h-1zM372 243h1v1h-1zM376 243h1v1h-1zM381 243h1v1h-1zM429 243h1v1h-1zM439 243h1v1h-1zM445 243h1v1h-1zM449 243h1v1h-1zM504 243h1v1h-1zM509 243h1v1h-1zM129 243h2v4h-2zM134 243h2v4h-2zM172 243h2v4h-2zM178 243h2v4h-2zM193 243h2v4h-2zM198 243h2v4h-2zM224 243h2v4h-2zM230 243h2v4h-2zM256 243h2v4h-2zM263 243h2v4h-2zM266 243h2v4h-2zM275 243h4v4h-4zM312 243h2v4h-2zM414 243h2v4h-2zM423 243h2v4h-2zM522 243h2v4h-2zM530 243h2v4h-2zM129 247h1v1h-1zM134 247h1v1h-1zM146 244h2v4h-2zM151 244h2v4h-2zM158 244h4v4h-4zM172 247h1v1h-1zM178 247h1v1h-1zM185 244h2v4h-2zM188 244h2v4h-2zM193 247h1v1h-1zM198 247h1v1h-1zM224 247h1v1h-1zM230 247h1v1h-1zM233 244h2v4h-2zM236 244h2v4h-2zM256 247h1v1h-1zM263 247h1v1h-1zM266 247h1v1h-1zM275 247h1v1h-1zM277 247h1v1h-1zM285 244h2v4h-2zM312 247h1v1h-1zM323 244h2v4h-2zM371 244h2v4h-2zM375 244h2v4h-2zM381 244h2v4h-2zM414 247h1v1h-1zM423 247h1v1h-1zM428 244h2v4h-2zM439 244h2v4h-2zM443 244h2v4h-2zM448 244h2v4h-2zM503 244h2v4h-2zM508 244h2v4h-2zM522 247h1v1h-1zM530 247h1v1h-1zM145 248h1v1h-1zM151 248h1v1h-1zM158 248h1v1h-1zM160 248h1v1h-1zM184 248h1v1h-1zM189 248h1v1h-1zM233 248h1v1h-1zM237 248h1v1h-1zM285 248h1v1h-1zM323 248h1v1h-1zM371 248h1v1h-1zM374 248h1v1h-1zM381 248h1v1h-1zM428 248h1v1h-1zM439 248h1v1h-1zM443 248h1v1h-1zM449 248h1v1h-1zM478 248h1v1h-1zM503 248h1v1h-1zM509 248h1v1h-1zM556 244h1v5h-1zM275 250h2v1h-2zM390 250h4v1h-4zM450 250h5v1h-5zM390 251h5v1h-5zM449 251h4v1h-4zM371 251h2v3h-2zM374 251h2v3h-2zM503 251h2v3h-2zM129 250h2v5h-2zM134 250h2v5h-2zM172 250h2v5h-2zM178 250h2v5h-2zM193 250h2v5h-2zM198 250h2v5h-2zM219 251h2v4h-2zM224 250h2v5h-2zM230 250h2v5h-2zM256 250h2v5h-2zM263 250h2v5h-2zM266 250h2v5h-2zM275 251h1v4h-1zM292 251h2v4h-2zM300 252h2v3h-2zM323 251h2v4h-2zM414 250h2v5h-2zM423 250h2v5h-2zM428 251h1v4h-1zM514 251h2v4h-2zM522 250h2v5h-2zM538 251h2v4h-2zM145 251h2v5h-2zM158 251h1v5h-1zM161 251h1v5h-1zM184 251h2v5h-2zM189 251h2v5h-2zM219 255h3v1h-3zM233 251h2v5h-2zM237 251h2v5h-2zM285 251h2v5h-2zM292 255h3v1h-3zM299 255h2v1h-2zM312 250h2v6h-2zM322 255h2v1h-2zM372 254h4v2h-4zM381 251h2v5h-2zM393 252h2v4h-2zM427 255h2v1h-2zM439 251h2v5h-2zM443 252h2v4h-2zM455 255h1v1h-1zM478 251h1v5h-1zM489 251h2v5h-2zM502 254h2v2h-2zM509 251h1v5h-1zM513 255h4v1h-4zM521 255h2v1h-2zM530 250h2v6h-2zM538 255h3v1h-3zM556 251h1v5h-1zM130 257h1v1h-1zM135 257h1v1h-1zM173 257h1v1h-1zM179 257h1v1h-1zM194 257h1v1h-1zM199 257h1v1h-1zM225 257h1v1h-1zM231 257h1v1h-1zM256 257h1v1h-1zM264 257h1v1h-1zM266 257h1v1h-1zM415 257h1v1h-1zM425 257h1v1h-1zM146 258h1v1h-1zM161 258h1v1h-1zM185 258h1v1h-1zM190 258h1v1h-1zM220 258h2v1h-2zM230 258h2v1h-2zM234 258h1v1h-1zM275 258h1v1h-1zM286 258h1v1h-1zM293 258h2v1h-2zM300 258h1v1h-1zM313 258h1v1h-1zM323 258h1v1h-1zM373 258h1v1h-1zM375 258h1v1h-1zM382 258h1v1h-1zM428 258h1v1h-1zM444 258h1v1h-1zM455 258h1v1h-1zM490 258h1v1h-1zM503 258h1v1h-1zM514 258h1v1h-1zM516 258h1v1h-1zM522 258h1v1h-1zM531 258h1v1h-1zM539 258h2v1h-2zM129 258h2v4h-2zM134 258h2v4h-2zM172 258h2v4h-2zM178 258h2v4h-2zM193 258h2v4h-2zM198 258h2v4h-2zM224 258h2v4h-2zM230 259h4v3h-4zM255 258h2v4h-2zM263 258h4v4h-4zM277 259h1v3h-1zM414 258h2v4h-2zM424 258h2v4h-2zM129 262h1v1h-1zM134 262h1v1h-1zM145 259h2v4h-2zM157 259h2v4h-2zM161 259h2v4h-2zM172 262h1v1h-1zM178 262h1v1h-1zM184 259h2v4h-2zM189 259h2v4h-2zM192 262h1v1h-1zM198 262h1v1h-1zM218 259h4v4h-4zM224 262h1v1h-1zM230 262h1v1h-1zM232 262h2v1h-2zM238 258h1v5h-1zM255 262h1v1h-1zM263 262h1v1h-1zM265 262h1v1h-1zM286 259h2v4h-2zM292 259h3v4h-3zM299 259h2v4h-2zM313 259h2v4h-2zM322 259h2v4h-2zM372 259h4v4h-4zM381 259h2v4h-2zM389 261h1v2h-1zM414 262h1v1h-1zM424 262h1v1h-1zM443 259h1v4h-1zM469 259h2v4h-2zM488 259h3v4h-3zM502 259h2v4h-2zM513 259h4v4h-4zM521 259h2v4h-2zM530 259h2v4h-2zM538 259h3v4h-3zM145 263h1v1h-1zM157 263h1v1h-1zM161 263h1v1h-1zM184 263h1v1h-1zM189 263h1v1h-1zM218 263h1v1h-1zM221 263h1v1h-1zM232 263h1v1h-1zM286 263h1v1h-1zM292 263h1v1h-1zM294 263h1v1h-1zM298 263h1v1h-1zM313 263h1v1h-1zM322 263h1v1h-1zM372 263h1v1h-1zM374 263h1v1h-1zM382 263h1v1h-1zM394 258h1v6h-1zM427 259h1v5h-1zM440 258h1v6h-1zM478 259h1v5h-1zM488 263h1v1h-1zM490 263h1v1h-1zM502 263h1v1h-1zM516 263h1v1h-1zM520 263h1v1h-1zM531 263h1v1h-1zM537 263h1v1h-1zM540 263h1v1h-1zM134 265h2v1h-2zM172 265h2v1h-2zM178 265h2v1h-2zM224 265h2v1h-2zM230 265h2v1h-2zM157 266h2v1h-2zM161 266h2v1h-2zM189 266h2v1h-2zM292 266h4v1h-4zM322 266h2v1h-2zM440 266h1v1h-1zM443 266h1v1h-1zM238 266h2v3h-2zM129 265h2v5h-2zM135 266h2v4h-2zM171 266h2v4h-2zM179 266h2v4h-2zM184 266h2v4h-2zM192 265h2v5h-2zM199 265h2v5h-2zM221 266h4v4h-4zM231 266h3v4h-3zM255 265h2v5h-2zM263 265h4v5h-4zM277 265h1v5h-1zM294 267h1v3h-1zM298 266h2v4h-2zM372 266h4v4h-4zM413 265h2v5h-2zM424 265h2v5h-2zM456 266h1v4h-1zM513 266h1v4h-1zM516 266h2v4h-2zM520 266h2v4h-2zM540 266h2v4h-2zM145 266h2v5h-2zM157 267h1v4h-1zM162 267h1v4h-1zM183 270h2v1h-2zM190 267h1v4h-1zM218 266h2v5h-2zM222 270h2v1h-2zM232 270h2v1h-2zM239 269h1v2h-1zM286 266h2v5h-2zM291 267h2v4h-2zM297 270h2v1h-2zM313 266h2v5h-2zM323 267h1v4h-1zM372 270h3v1h-3zM382 266h2v5h-2zM394 266h2v5h-2zM427 266h1v5h-1zM442 267h2v4h-2zM456 270h2v1h-2zM469 266h1v5h-1zM473 270h1v1h-1zM477 270h1v1h-1zM488 266h4v5h-4zM502 266h2v5h-2zM517 270h4v1h-4zM531 266h2v5h-2zM537 266h2v5h-2zM541 270h2v1h-2zM555 266h1v5h-1zM130 272h1v1h-1zM136 272h1v1h-1zM172 272h1v1h-1zM180 272h1v1h-1zM193 272h1v1h-1zM200 272h1v1h-1zM224 272h1v1h-1zM232 272h1v1h-1zM256 272h1v1h-1zM264 272h1v1h-1zM266 272h1v1h-1zM414 272h1v1h-1zM425 272h1v1h-1zM129 273h2v1h-2zM146 273h1v1h-1zM184 273h1v1h-1zM219 273h1v1h-1zM223 273h2v1h-2zM231 273h3v1h-3zM277 272h1v2h-1zM287 273h1v1h-1zM292 273h1v1h-1zM298 273h1v1h-1zM314 273h1v1h-1zM374 273h1v1h-1zM383 273h1v1h-1zM424 273h2v1h-2zM443 273h1v1h-1zM469 273h1v1h-1zM489 273h1v1h-1zM491 273h1v1h-1zM502 273h1v1h-1zM518 273h1v1h-1zM520 273h1v1h-1zM532 273h1v1h-1zM538 273h1v1h-1zM542 273h1v1h-1zM128 274h2v3h-2zM135 273h2v4h-2zM171 273h2v4h-2zM179 273h2v4h-2zM192 273h2v4h-2zM199 273h2v4h-2zM222 274h3v3h-3zM255 273h2v4h-2zM263 273h4v4h-4zM276 274h2v3h-2zM413 273h2v4h-2zM425 274h1v3h-1zM128 277h1v1h-1zM135 277h1v1h-1zM145 274h2v4h-2zM162 273h1v5h-1zM171 277h1v1h-1zM179 277h1v1h-1zM183 274h2v4h-2zM190 273h1v5h-1zM192 277h1v1h-1zM199 277h1v1h-1zM217 274h2v4h-2zM222 277h2v1h-2zM231 274h2v4h-2zM239 273h1v5h-1zM255 277h1v1h-1zM263 277h1v1h-1zM265 277h1v1h-1zM276 277h1v1h-1zM286 274h2v4h-2zM291 274h2v4h-2zM297 274h2v4h-2zM314 274h2v4h-2zM323 273h1v5h-1zM373 274h2v4h-2zM382 274h2v4h-2zM413 277h1v1h-1zM442 274h1v4h-1zM487 274h2v4h-2zM490 274h2v4h-2zM501 274h2v4h-2zM510 274h2v4h-2zM517 274h4v4h-4zM531 274h2v4h-2zM537 274h2v4h-2zM541 274h2v4h-2zM145 278h1v1h-1zM157 274h1v5h-1zM183 278h1v1h-1zM217 278h1v1h-1zM223 278h1v1h-1zM231 278h1v1h-1zM286 278h1v1h-1zM291 278h1v1h-1zM314 278h1v1h-1zM373 278h1v1h-1zM382 278h1v1h-1zM395 273h1v6h-1zM426 278h1v1h-1zM457 273h1v6h-1zM473 273h1v6h-1zM477 274h1v5h-1zM487 278h1v1h-1zM490 278h1v1h-1zM501 278h1v1h-1zM510 278h1v1h-1zM518 278h1v1h-1zM531 278h1v1h-1zM537 278h1v1h-1zM542 278h1v1h-1zM555 274h1v5h-1zM252 280h5v1h-5zM425 280h1v1h-1zM474 280h4v1h-4zM543 280h5v1h-5zM179 280h6v2h-6zM223 280h2v2h-2zM231 280h2v2h-2zM251 281h6v1h-6zM276 280h2v2h-2zM297 281h1v1h-1zM373 281h2v1h-2zM442 281h1v1h-1zM473 281h5v1h-5zM501 280h2v2h-2zM510 281h2v1h-2zM518 281h2v1h-2zM542 281h6v1h-6zM128 280h2v5h-2zM135 280h2v5h-2zM145 281h2v4h-2zM190 281h1v4h-1zM192 280h2v5h-2zM199 280h2v5h-2zM251 282h2v3h-2zM263 280h4v5h-4zM382 281h2v4h-2zM425 281h2v4h-2zM457 281h2v4h-2zM490 281h2v4h-2zM531 281h2v4h-2zM537 281h2v4h-2zM136 285h1v1h-1zM144 285h2v1h-2zM157 281h1v5h-1zM162 281h1v5h-1zM171 280h2v6h-2zM190 285h2v1h-2zM200 285h2v1h-2zM217 281h2v5h-2zM240 284h1v2h-1zM251 285h1v1h-1zM286 281h2v5h-2zM291 281h2v5h-2zM314 281h2v5h-2zM383 285h2v1h-2zM388 281h1v5h-1zM395 281h1v5h-1zM413 280h2v6h-2zM426 285h1v1h-1zM458 285h2v1h-2zM487 281h2v5h-2zM491 285h2v1h-2zM498 280h1v6h-1zM532 285h2v1h-2zM536 285h2v1h-2zM546 282h2v4h-2zM555 281h1v5h-1zM129 287h1v1h-1zM193 287h1v1h-1zM265 287h2v1h-2zM145 288h1v1h-1zM172 288h1v1h-1zM191 288h3v1h-3zM201 288h1v1h-1zM218 288h1v1h-1zM251 288h1v1h-1zM287 288h1v1h-1zM292 288h1v1h-1zM315 288h1v1h-1zM384 288h1v1h-1zM414 288h1v1h-1zM425 287h1v2h-1zM459 288h1v1h-1zM488 288h1v1h-1zM492 288h1v1h-1zM498 288h1v1h-1zM533 288h1v1h-1zM537 288h1v1h-1zM547 288h1v1h-1zM128 288h2v4h-2zM190 289h4v3h-4zM264 288h3v4h-3zM128 292h1v1h-1zM144 289h2v4h-2zM162 288h1v5h-1zM170 289h2v4h-2zM190 292h3v1h-3zM200 289h2v4h-2zM216 289h2v4h-2zM240 288h1v5h-1zM264 292h2v1h-2zM286 289h2v4h-2zM291 289h2v4h-2zM315 289h2v4h-2zM383 289h2v4h-2zM388 288h1v5h-1zM413 289h2v4h-2zM458 289h2v4h-2zM486 289h2v4h-2zM491 289h2v4h-2zM532 289h2v4h-2zM536 289h2v4h-2zM547 289h2v4h-2zM144 293h1v1h-1zM157 289h1v5h-1zM170 293h1v1h-1zM190 293h1v1h-1zM201 293h1v1h-1zM216 293h1v1h-1zM249 293h1v1h-1zM286 293h1v1h-1zM291 293h1v1h-1zM315 293h1v1h-1zM383 293h1v1h-1zM412 293h1v1h-1zM459 293h1v1h-1zM466 289h1v5h-1zM486 293h1v1h-1zM491 293h1v1h-1zM532 293h1v1h-1zM536 293h1v1h-1zM547 293h1v1h-1zM555 289h1v5h-1zM192 295h2v1h-2zM157 296h1v1h-1zM162 296h1v1h-1zM190 296h4v1h-4zM291 296h2v1h-2zM128 295h2v5h-2zM138 296h1v4h-1zM191 297h3v3h-3zM201 296h2v4h-2zM249 296h1v4h-1zM264 295h2v5h-2zM321 297h1v3h-1zM459 296h2v4h-2zM138 300h2v1h-2zM144 296h2v5h-2zM170 296h2v5h-2zM191 300h1v1h-1zM202 300h2v1h-2zM216 296h2v5h-2zM248 300h2v1h-2zM286 296h2v5h-2zM290 297h2v4h-2zM315 296h2v5h-2zM320 300h2v1h-2zM383 296h2v5h-2zM396 296h1v5h-1zM412 296h2v5h-2zM460 300h2v1h-2zM466 296h1v5h-1zM487 296h1v5h-1zM491 296h2v5h-2zM497 297h1v4h-1zM532 296h2v5h-2zM536 296h2v5h-2zM547 296h2v5h-2zM554 296h2v5h-2zM129 302h1v1h-1zM193 302h1v1h-1zM265 302h1v1h-1zM139 303h1v1h-1zM145 303h1v1h-1zM171 303h1v1h-1zM203 303h1v1h-1zM217 303h1v1h-1zM249 303h1v1h-1zM287 303h1v1h-1zM291 303h1v1h-1zM316 303h1v1h-1zM321 303h1v1h-1zM384 303h1v1h-1zM413 303h1v1h-1zM461 303h1v1h-1zM487 303h1v1h-1zM492 303h1v1h-1zM497 303h1v1h-1zM533 303h1v1h-1zM537 303h1v1h-1zM548 303h1v1h-1zM555 303h1v1h-1zM241 303h1v2h-1zM286 304h2v1h-2zM465 304h2v1h-2zM554 304h2v1h-2zM128 303h2v4h-2zM191 303h3v4h-3zM264 303h2v4h-2zM128 307h1v1h-1zM138 304h2v4h-2zM144 304h2v4h-2zM163 305h1v3h-1zM169 304h2v4h-2zM191 307h2v1h-2zM202 304h2v4h-2zM215 304h2v4h-2zM248 304h2v4h-2zM264 307h1v1h-1zM287 305h2v3h-2zM290 304h2v4h-2zM316 304h2v4h-2zM320 304h2v4h-2zM383 304h2v4h-2zM387 303h1v5h-1zM412 304h2v4h-2zM460 304h2v4h-2zM491 304h2v4h-2zM532 304h2v4h-2zM536 304h2v4h-2zM548 304h2v4h-2zM139 308h1v1h-1zM144 308h1v1h-1zM156 305h1v4h-1zM169 308h1v1h-1zM203 308h1v1h-1zM215 308h1v1h-1zM247 308h1v1h-1zM287 308h1v1h-1zM290 308h1v1h-1zM316 308h1v1h-1zM320 308h1v1h-1zM384 308h1v1h-1zM412 308h1v1h-1zM461 308h1v1h-1zM465 305h1v4h-1zM492 308h1v1h-1zM533 308h1v1h-1zM535 308h1v1h-1zM548 308h1v1h-1zM554 305h1v4h-1zM95 310h5v1h-5zM107 310h5v1h-5zM192 310h2v1h-2zM317 310h1v1h-1zM462 310h4v1h-4zM94 311h4v1h-4zM106 311h4v1h-4zM264 310h2v2h-2zM316 311h2v1h-2zM320 310h2v2h-2zM387 311h1v1h-1zM461 311h5v1h-5zM106 312h2v3h-2zM128 310h2v5h-2zM139 311h2v4h-2zM191 311h3v4h-3zM247 311h2v4h-2zM554 311h1v4h-1zM84 315h1v1h-1zM94 312h2v4h-2zM100 315h1v1h-1zM105 315h2v1h-2zM112 315h1v1h-1zM140 315h1v1h-1zM144 311h2v5h-2zM156 311h1v5h-1zM163 311h1v5h-1zM169 311h2v5h-2zM191 315h1v1h-1zM203 311h2v5h-2zM214 315h1v1h-1zM247 315h1v1h-1zM287 311h2v5h-2zM290 311h2v5h-2zM384 312h4v4h-4zM399 315h1v1h-1zM412 311h2v5h-2zM492 311h2v5h-2zM533 311h4v5h-4zM548 311h2v5h-2zM553 315h2v1h-2zM129 317h1v1h-1zM192 317h1v1h-1zM84 318h1v1h-1zM95 318h1v1h-1zM100 318h1v1h-1zM106 318h1v1h-1zM112 318h1v1h-1zM128 318h2v1h-2zM145 318h1v1h-1zM170 318h1v1h-1zM204 318h1v1h-1zM288 318h1v1h-1zM291 318h1v1h-1zM385 318h1v1h-1zM387 318h1v1h-1zM399 318h1v1h-1zM412 318h1v1h-1zM493 318h1v1h-1zM534 318h1v1h-1zM536 318h1v1h-1zM549 318h1v1h-1zM554 318h1v1h-1zM127 319h2v3h-2zM191 318h2v4h-2zM242 318h1v4h-1zM93 319h2v4h-2zM105 319h2v4h-2zM127 322h1v1h-1zM140 319h1v4h-1zM144 319h2v4h-2zM163 318h1v5h-1zM204 319h2v4h-2zM247 318h1v5h-1zM287 319h2v4h-2zM290 319h2v4h-2zM384 319h4v4h-4zM411 319h2v4h-2zM492 319h3v4h-3zM533 319h4v4h-4zM549 319h2v4h-2zM553 319h2v4h-2zM93 323h1v1h-1zM104 323h1v1h-1zM143 323h1v1h-1zM156 319h1v5h-1zM191 322h1v2h-1zM204 323h1v1h-1zM213 323h1v1h-1zM287 323h1v1h-1zM290 323h1v1h-1zM384 323h1v1h-1zM386 323h1v1h-1zM411 323h1v1h-1zM492 323h1v1h-1zM494 323h1v1h-1zM533 323h1v1h-1zM535 323h1v1h-1zM549 323h1v1h-1zM552 323h1v1h-1zM143 326h2v1h-2zM156 326h1v1h-1zM163 326h1v1h-1zM191 325h2v2h-2zM287 326h2v1h-2zM290 326h2v1h-2zM492 326h3v1h-3zM85 326h1v4h-1zM101 326h1v4h-1zM104 326h2v4h-2zM113 326h1v4h-1zM127 325h2v5h-2zM141 327h1v3h-1zM213 326h1v4h-1zM246 327h1v3h-1zM384 326h3v4h-3zM400 326h1v4h-1zM492 327h2v3h-2zM533 326h4v4h-4zM549 326h2v4h-2zM552 326h2v4h-2zM85 330h2v1h-2zM93 326h2v5h-2zM101 330h4v1h-4zM113 330h2v1h-2zM144 327h1v4h-1zM192 327h1v4h-1zM204 326h2v5h-2zM212 330h2v1h-2zM243 326h1v5h-1zM287 327h4v4h-4zM385 330h2v1h-2zM400 330h2v1h-2zM411 326h2v5h-2zM493 330h1v1h-1zM534 330h2v1h-2zM549 330h4v1h-4zM128 332h1v1h-1zM94 333h1v1h-1zM102 333h1v1h-1zM104 333h1v1h-1zM205 333h1v1h-1zM213 333h1v1h-1zM288 333h1v1h-1zM290 333h1v1h-1zM386 333h1v1h-1zM412 333h1v1h-1zM535 333h1v1h-1zM550 333h1v1h-1zM552 333h1v1h-1zM127 333h2v4h-2zM92 334h2v4h-2zM102 334h3v4h-3zM127 337h1v1h-1zM144 333h1v5h-1zM167 334h2v4h-2zM192 332h1v6h-1zM205 334h2v4h-2zM212 334h1v4h-1zM288 334h3v4h-3zM385 334h2v4h-2zM411 334h2v4h-2zM534 334h2v4h-2zM550 334h3v4h-3zM86 333h1v6h-1zM92 338h1v1h-1zM102 338h1v1h-1zM114 333h1v6h-1zM167 338h1v1h-1zM205 338h1v1h-1zM211 338h1v1h-1zM243 333h1v6h-1zM289 338h1v1h-1zM385 338h1v1h-1zM401 333h1v6h-1zM410 338h1v1h-1zM493 334h1v5h-1zM534 338h1v1h-1zM550 338h1v1h-1zM115 340h1v1h-1zM402 340h5v1h-5zM102 341h2v1h-2zM114 341h2v1h-2zM118 340h7v2h-7zM127 340h2v2h-2zM144 341h1v1h-1zM192 340h1v2h-1zM243 341h1v1h-1zM385 341h2v1h-2zM401 341h6v1h-6zM493 341h1v1h-1zM534 341h2v1h-2zM550 341h2v1h-2zM86 341h2v4h-2zM167 341h2v4h-2zM211 341h2v4h-2zM405 342h2v3h-2zM74 341h2v5h-2zM87 345h2v1h-2zM92 341h2v5h-2zM167 345h1v1h-1zM205 341h2v5h-2zM210 345h2v1h-2zM288 341h3v5h-3zM406 345h2v1h-2zM410 341h2v5h-2zM74 348h1v1h-1zM88 348h1v1h-1zM93 348h1v1h-1zM206 348h1v1h-1zM211 348h1v1h-1zM288 348h1v1h-1zM290 348h1v1h-1zM407 348h1v1h-1zM411 348h1v1h-1zM74 349h2v1h-2zM92 349h2v1h-2zM167 348h1v2h-1zM205 349h2v1h-2zM73 350h4v3h-4zM87 349h2v4h-2zM91 350h2v3h-2zM166 350h2v3h-2zM206 350h2v3h-2zM210 349h2v4h-2zM289 349h2v4h-2zM406 349h2v4h-2zM410 349h2v4h-2zM76 353h1v1h-1zM88 353h1v1h-1zM91 353h1v1h-1zM206 353h1v1h-1zM209 353h1v1h-1zM289 353h1v1h-1zM407 353h1v1h-1zM410 353h1v1h-1zM289 356h2v1h-2zM73 356h1v5h-1zM76 356h1v5h-1zM88 356h2v5h-2zM91 356h2v5h-2zM166 356h1v5h-1zM206 356h2v5h-2zM209 356h2v5h-2zM289 357h1v4h-1zM407 356h2v5h-2zM410 356h2v5h-2zM90 363h1v1h-1zM92 363h1v1h-1zM207 363h1v1h-1zM209 363h1v1h-1zM289 363h1v1h-1zM409 363h2v1h-2zM89 364h4v1h-4zM206 364h4v1h-4zM72 365h1v3h-1zM89 365h3v3h-3zM165 365h1v3h-1zM207 365h3v3h-3zM408 364h3v4h-3zM77 365h1v4h-1zM89 368h2v1h-2zM207 368h2v1h-2zM408 368h2v1h-2zM288 372h1v1h-1zM171 416h5v1h-5zM163 416h5v2h-5zM170 417h5v1h-5zM178 416h5v2h-5z"/>
<path fill="#0000bf" d="M304 70h2v16h-2zM304 86h3v7h-3zM303 93h4v23h-4zM303 116h2v22h-2zM332 130h2v8h-2zM306 116h2v30h-2zM352 130h2v16h-2zM331 138h3v15h-3zM330 153h2v16h-2zM307 146h2v30h-2zM351 146h4v30h-4zM302 138h2v46h-2zM329 169h2v15h-2zM393 191h2v6h-2zM333 153h2v45h-2zM364 190h2v9h-2zM350 176h2v30h-2zM354 176h2v30h-2zM364 199h3v7h-3zM392 197h3v9h-3zM481 191h2v15h-2zM392 206h4v3h-4zM308 176h2v38h-2zM328 184h2v30h-2zM363 206h4v8h-4zM469 191h2v23h-2zM526 191h2v23h-2zM558 191h2v23h-2zM391 209h2v12h-2zM301 184h2v45h-2zM366 214h2v15h-2zM390 221h2v12h-2zM349 206h2v30h-2zM355 206h2v30h-2zM363 214h2v22h-2zM394 209h2v27h-2zM480 206h4v30h-4zM334 198h2v46h-2zM367 229h2v15h-2zM389 233h2v12h-2zM300 229h2v21h-2zM277 250h5v1h-5zM297 250h5v1h-5zM418 250h5v1h-5zM430 250h5v1h-5zM442 250h5v1h-5zM276 251h6v1h-6zM296 251h6v1h-6zM417 251h6v1h-6zM429 251h6v1h-6zM441 251h6v1h-6zM235 251h2v6h-2zM139 251h2v8h-2zM175 251h2v8h-2zM187 251h2v8h-2zM235 257h3v2h-3zM247 251h2v8h-2zM268 251h2v8h-2zM276 252h2v7h-2zM280 252h2v7h-2zM309 214h2v45h-2zM327 214h2v45h-2zM340 251h2v8h-2zM348 236h2v23h-2zM356 236h2v23h-2zM377 251h2v8h-2zM421 252h2v7h-2zM429 252h2v7h-2zM453 251h2v8h-2zM468 214h4v45h-4zM497 251h2v8h-2zM510 251h2v8h-2zM525 214h4v45h-4zM557 214h2v45h-2zM388 245h2v16h-2zM368 244h2v20h-2zM362 236h2v30h-2zM395 236h2v30h-2zM479 236h2v30h-2zM483 236h2v30h-2zM138 259h3v8h-3zM151 251h2v16h-2zM159 251h2v16h-2zM175 259h3v8h-3zM186 259h3v8h-3zM247 259h3v8h-3zM268 259h3v8h-3zM296 252h2v15h-2zM320 251h2v16h-2zM377 259h3v8h-3zM417 252h2v15h-2zM433 252h2v15h-2zM441 252h2v15h-2zM445 252h2v15h-2zM453 259h3v8h-3zM497 259h3v8h-3zM234 259h4v10h-4zM138 267h4v7h-4zM174 267h4v7h-4zM186 267h4v7h-4zM234 269h2v5h-2zM246 267h4v7h-4zM267 267h4v7h-4zM275 259h2v15h-2zM281 259h2v15h-2zM339 259h4v15h-4zM347 259h2v15h-2zM357 259h2v15h-2zM376 267h4v7h-4zM422 259h2v15h-2zM428 259h2v15h-2zM452 267h4v7h-4zM496 267h4v7h-4zM509 259h4v15h-4zM237 269h2v12h-2zM387 261h2v20h-2zM369 264h2v24h-2zM137 274h2v15h-2zM177 274h2v15h-2zM185 274h2v15h-2zM233 274h2v15h-2zM249 274h2v15h-2zM270 274h2v15h-2zM274 274h2v15h-2zM282 274h2v15h-2zM335 244h2v45h-2zM338 274h2v15h-2zM342 274h2v15h-2zM346 274h2v15h-2zM358 274h2v15h-2zM361 266h2v23h-2zM379 274h2v15h-2zM423 274h2v15h-2zM427 274h2v15h-2zM455 274h2v15h-2zM499 274h2v15h-2zM508 274h2v15h-2zM512 274h2v15h-2zM238 281h2v12h-2zM359 289h4v7h-4zM396 266h2v30h-2zM478 266h2v30h-2zM484 266h2v30h-2zM140 274h2v23h-2zM150 267h4v30h-4zM158 267h4v30h-4zM174 274h2v23h-2zM188 274h2v23h-2zM246 274h2v23h-2zM267 274h2v23h-2zM295 267h2v30h-2zM319 267h4v30h-4zM376 274h2v23h-2zM416 267h2v30h-2zM434 267h2v30h-2zM440 267h2v30h-2zM446 267h2v30h-2zM452 274h2v23h-2zM496 274h2v23h-2zM386 281h2v20h-2zM136 289h2v15h-2zM178 289h2v15h-2zM184 289h2v15h-2zM232 289h2v15h-2zM250 289h2v15h-2zM271 289h4v15h-4zM283 289h2v15h-2zM336 289h3v15h-3zM343 289h4v15h-4zM359 296h3v8h-3zM380 289h2v15h-2zM424 289h4v15h-4zM456 289h2v15h-2zM500 289h2v15h-2zM507 289h2v15h-2zM513 289h2v15h-2zM239 293h2v12h-2zM310 259h2v46h-2zM326 259h2v46h-2zM467 259h2v46h-2zM471 259h2v46h-2zM524 259h2v46h-2zM528 259h2v46h-2zM556 259h2v46h-2zM179 304h2v6h-2zM183 304h2v6h-2zM231 304h2v6h-2zM381 304h2v6h-2zM385 301h2v9h-2zM485 296h2v14h-2zM501 304h2v6h-2zM506 304h2v6h-2zM514 304h2v6h-2zM119 310h6v1h-6zM196 310h5v1h-5zM216 310h5v1h-5zM228 310h5v1h-5zM543 310h5v1h-5zM118 311h7v1h-7zM179 310h6v2h-6zM195 311h6v1h-6zM215 311h6v1h-6zM227 311h6v1h-6zM272 304h2v8h-2zM336 304h2v8h-2zM344 304h2v8h-2zM360 304h2v8h-2zM370 288h2v24h-2zM381 310h6v2h-6zM425 304h2v8h-2zM485 310h6v2h-6zM501 310h7v2h-7zM514 310h6v2h-6zM542 311h6v1h-6zM259 311h2v7h-2zM74 311h2v8h-2zM82 311h2v8h-2zM98 311h2v8h-2zM110 311h2v8h-2zM118 312h2v7h-2zM123 312h2v7h-2zM135 304h2v15h-2zM167 311h2v8h-2zM195 312h2v7h-2zM199 312h2v7h-2zM215 312h2v7h-2zM219 312h2v7h-2zM227 312h2v7h-2zM251 304h2v15h-2zM259 318h3v1h-3zM284 304h2v15h-2zM397 296h2v23h-2zM457 304h2v15h-2zM477 296h2v23h-2zM489 312h2v7h-2zM518 312h2v7h-2zM542 312h2v7h-2zM546 312h2v7h-2zM240 305h2v17h-2zM141 297h2v30h-2zM149 297h2v30h-2zM153 297h2v30h-2zM157 297h2v30h-2zM161 297h2v30h-2zM173 297h2v30h-2zM189 297h2v30h-2zM245 297h2v30h-2zM266 297h2v30h-2zM294 297h2v30h-2zM318 297h2v30h-2zM322 297h2v30h-2zM325 305h2v22h-2zM375 297h2v30h-2zM415 297h2v30h-2zM435 297h2v30h-2zM439 297h2v30h-2zM447 297h2v30h-2zM451 297h2v30h-2zM495 297h2v30h-2zM258 319h4v11h-4zM73 319h4v15h-4zM81 319h4v15h-4zM97 319h4v15h-4zM109 319h4v15h-4zM117 319h2v15h-2zM124 319h2v15h-2zM134 319h2v15h-2zM166 319h4v15h-4zM194 319h2v15h-2zM200 319h2v15h-2zM214 319h2v15h-2zM220 319h2v15h-2zM226 319h2v15h-2zM252 319h2v15h-2zM258 330h2v4h-2zM285 319h2v15h-2zM398 319h2v15h-2zM458 319h2v15h-2zM476 319h2v15h-2zM490 319h2v15h-2zM519 319h2v15h-2zM541 319h2v15h-2zM547 319h2v15h-2zM371 312h2v24h-2zM374 327h2v9h-2zM241 322h2v20h-2zM244 327h2v15h-2zM261 330h2v12h-2zM286 334h2v15h-2zM72 334h2v16h-2zM76 334h2v16h-2zM80 334h2v16h-2zM84 334h2v16h-2zM96 334h2v16h-2zM100 334h2v16h-2zM108 334h2v16h-2zM112 334h2v16h-2zM116 334h2v16h-2zM125 334h2v16h-2zM133 334h2v16h-2zM162 327h2v23h-2zM165 334h2v16h-2zM169 334h2v16h-2zM172 327h2v23h-2zM190 327h2v23h-2zM193 334h2v16h-2zM201 334h2v16h-2zM213 334h2v16h-2zM221 334h2v16h-2zM225 334h2v16h-2zM253 334h2v16h-2zM257 334h2v16h-2zM311 305h2v45h-2zM323 327h4v23h-4zM399 334h2v16h-2zM459 334h2v16h-2zM466 305h2v45h-2zM472 305h2v45h-2zM475 334h2v16h-2zM491 334h2v16h-2zM494 327h2v23h-2zM520 334h2v16h-2zM523 305h2v45h-2zM529 305h2v45h-2zM540 334h2v16h-2zM548 334h2v16h-2zM555 305h2v45h-2zM262 342h2v12h-2zM265 327h2v27h-2zM142 327h2v30h-2zM148 327h2v30h-2zM154 327h4v30h-4zM162 350h4v7h-4zM170 350h4v7h-4zM190 350h4v7h-4zM242 342h4v15h-4zM263 354h4v3h-4zM293 327h2v30h-2zM317 327h2v30h-2zM323 350h3v7h-3zM372 336h4v21h-4zM414 327h2v30h-2zM436 327h4v30h-4zM448 327h4v30h-4zM492 350h4v7h-4zM372 357h3v3h-3zM242 357h3v5h-3zM287 349h2v15h-2zM71 350h2v15h-2zM77 350h4v15h-4zM85 350h2v15h-2zM95 350h2v15h-2zM101 350h2v15h-2zM107 350h2v15h-2zM113 350h4v15h-4zM126 350h2v15h-2zM132 350h2v15h-2zM163 357h3v8h-3zM170 357h3v8h-3zM191 357h3v8h-3zM202 350h2v15h-2zM212 350h2v15h-2zM222 350h4v15h-4zM254 350h4v15h-4zM400 350h2v15h-2zM460 350h2v15h-2zM473 350h3v15h-3zM492 357h3v8h-3zM521 350h3v15h-3zM539 350h2v15h-2zM549 350h2v15h-2zM263 357h3v9h-3zM70 365h2v6h-2zM86 365h2v6h-2zM94 365h2v6h-2zM102 365h2v6h-2zM106 365h2v6h-2zM127 365h2v6h-2zM131 365h2v6h-2zM143 357h2v14h-2zM147 357h2v14h-2zM203 365h2v6h-2zM211 365h2v6h-2zM288 364h2v7h-2zM292 357h2v14h-2zM312 350h2v21h-2zM316 357h2v14h-2zM401 365h2v6h-2zM413 357h2v14h-2zM461 365h2v6h-2zM465 350h2v21h-2zM530 350h2v21h-2zM538 365h2v6h-2zM550 365h2v6h-2zM554 350h2v21h-2zM288 371h6v1h-6zM47 371h25v2h-25zM78 365h2v8h-2zM86 371h10v2h-10zM102 371h6v2h-6zM114 365h2v8h-2zM127 371h6v2h-6zM143 371h6v2h-6zM155 357h2v16h-2zM163 365h2v8h-2zM171 365h2v8h-2zM191 365h2v8h-2zM203 371h10v2h-10zM223 365h2v8h-2zM243 362h2v11h-2zM255 365h2v8h-2zM264 366h2v7h-2zM289 372h5v1h-5zM312 371h6v2h-6zM324 357h2v16h-2zM373 360h2v13h-2zM401 371h14v2h-14zM437 357h2v16h-2zM449 357h2v16h-2zM461 371h6v2h-6zM473 365h2v8h-2zM493 365h2v8h-2zM522 365h2v8h-2zM530 371h10v2h-10zM550 371h6v2h-6zM303 416h22v2h-22z"/>
</svg>
</body></html>
